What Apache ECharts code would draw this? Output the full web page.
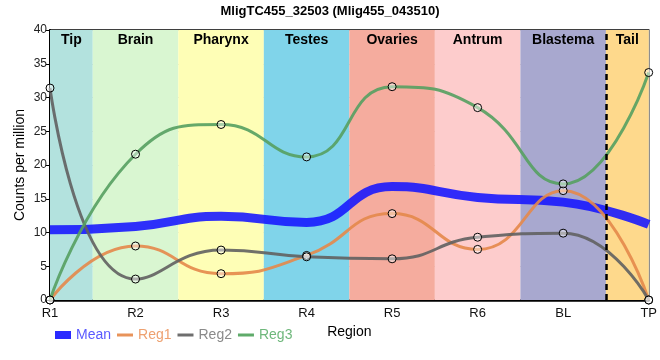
<!DOCTYPE html>
<html><head><meta charset="utf-8">
<script src="https://cdn.jsdelivr.net/npm/echarts@6/dist/echarts.min.js"></script>
<style>html,body{margin:0;padding:0;background:#fff}#c{width:660px;height:360px}</style>
</head><body><div id="c"></div>
<script>
const categories = ['R1','R2','R3','R4','R5','R6','BL','TP'];
const meanValues = [10.4, 10.9, 12.4, 11.5, 16.8, 15.2, 14.5, 11.2];
const reg1Values = [0, 8.0, 3.9, 6.6, 12.8, 7.5, 16.2, 0];
const reg2Values = [31.4, 3.1, 7.4, 6.4, 6.1, 9.3, 9.9, 0];
const reg3Values = [0, 21.6, 26.0, 21.2, 31.6, 28.5, 17.2, 33.7];
const regionNames = ['Tip','Brain','Pharynx','Testes','Ovaries','Antrum','Blastema','Tail'];
const regionBounds = [[0,0.5],[0.5,1.5],[1.5,2.5],[2.5,3.5],[3.5,4.5],[4.5,5.5],[5.5,6.5],[6.5,7]];
const regionColors = ['#b3e2de','#d9f6d1','#fefeb6','#80d4ea','#f5ac9e','#fdcccc','#a8a8cf','#fed98c'];
const dashPos = 6.5;
const yTicks = {min:0, max:40, interval:5};

const font = 'Liberation Sans, Arial, sans-serif';
const toPairs = arr => arr.map((v,i)=>[i,v]);
const marker = {symbol:'circle', symbolSize:8, itemStyle:{color:'rgba(255,255,255,0.45)', borderColor:'#000', borderWidth:1}};
const lineIcon = 'path://M0,0H16V3H0Z';

const chart = echarts.init(document.getElementById('c'), null, {renderer:'canvas'});
chart.setOption({
  animation:false,
  title:{text:'MligTC455_32503 (Mlig455_043510)', left:'center', top:0,
    textStyle:{fontFamily:font, fontSize:13, fontWeight:'bold', color:'#000'}},
  grid:{left:50, right:9, top:30, bottom:60, show:true, borderColor:'#000', borderWidth:1.5, backgroundColor:'transparent'},
  legend:{left:50, top:323, itemWidth:16, itemHeight:8, itemGap:6,
    textStyle:{fontFamily:font, fontSize:14},
    data:[
      {name:'Mean', icon:'rect', itemStyle:{color:'#2a2aff', borderWidth:0}, textStyle:{color:'#5a5aff'}},
      {name:'Reg1', icon:lineIcon, itemStyle:{color:'#e8935a', borderWidth:0}, textStyle:{color:'#eea170'}},
      {name:'Reg2', icon:lineIcon, itemStyle:{color:'#6e6e6e', borderWidth:0}, textStyle:{color:'#8a8a8a'}},
      {name:'Reg3', icon:lineIcon, itemStyle:{color:'#5fab6a', borderWidth:0}, textStyle:{color:'#6fb87c'}}
    ]},
  xAxis:{type:'value', min:0, max:categories.length-1, interval:1,
    name:'Region', nameLocation:'middle', nameGap:25, nameMoveOverlap:false,
    nameTextStyle:{fontFamily:font, fontSize:14, color:'#000'},
    axisLine:{lineStyle:{color:'#000', width:2.5}},
    axisTick:{show:false},
    axisLabel:{fontFamily:font, fontSize:13, color:'#111', margin:7, formatter:v=>categories[v]||''},
    splitLine:{show:true, lineStyle:{color:'#c8c8c8', width:1}}},
  yAxis:{type:'value', min:yTicks.min, max:yTicks.max, interval:yTicks.interval,
    name:'Counts per million', nameLocation:'middle', nameGap:23, nameMoveOverlap:false,
    nameTextStyle:{fontFamily:font, fontSize:14, color:'#000'},
    axisLine:{show:true, lineStyle:{color:'#000', width:2}},
    axisTick:{show:true, length:4, lineStyle:{color:'#000'}},
    axisLabel:{fontFamily:font, fontSize:12, color:'#222', margin:3},
    splitLine:{show:true, lineStyle:{color:'#c8c8c8', width:1}}},
  series:[
    {name:'bands', type:'line', data:[], silent:true,
      markArea:{silent:true,
        label:{position:'insideTop', distance:3, fontFamily:font, fontSize:14, fontWeight:'bold', color:'#000'},
        data:regionNames.map((n,i)=>[{name:n, xAxis:regionBounds[i][0], itemStyle:{color:regionColors[i], opacity:1}}, {xAxis:regionBounds[i][1]}])},
      markLine:{silent:true, symbol:'none', label:{show:false},
        lineStyle:{color:'#000', type:[6,4], width:2.5},
        data:[{xAxis:dashPos}]}},
    {name:'Mean', type:'line', data:toPairs(meanValues), smooth:0.5, showSymbol:false, symbol:'none',
      lineStyle:{color:'#1414ff', width:9, opacity:0.88}, itemStyle:{color:'#2a2aff'}, z:3},
    {name:'Reg1', type:'line', data:toPairs(reg1Values), smooth:0.5, ...marker,
      lineStyle:{color:'#e4884a', width:3, opacity:0.9}, z:4},
    {name:'Reg2', type:'line', data:toPairs(reg2Values), smooth:0.5, ...marker,
      lineStyle:{color:'#606060', width:3, opacity:0.9}, z:4},
    {name:'Reg3', type:'line', data:toPairs(reg3Values), smooth:0.5, ...marker,
      lineStyle:{color:'#55a060', width:3, opacity:0.9}, z:4}
  ]
});
</script></body></html>
